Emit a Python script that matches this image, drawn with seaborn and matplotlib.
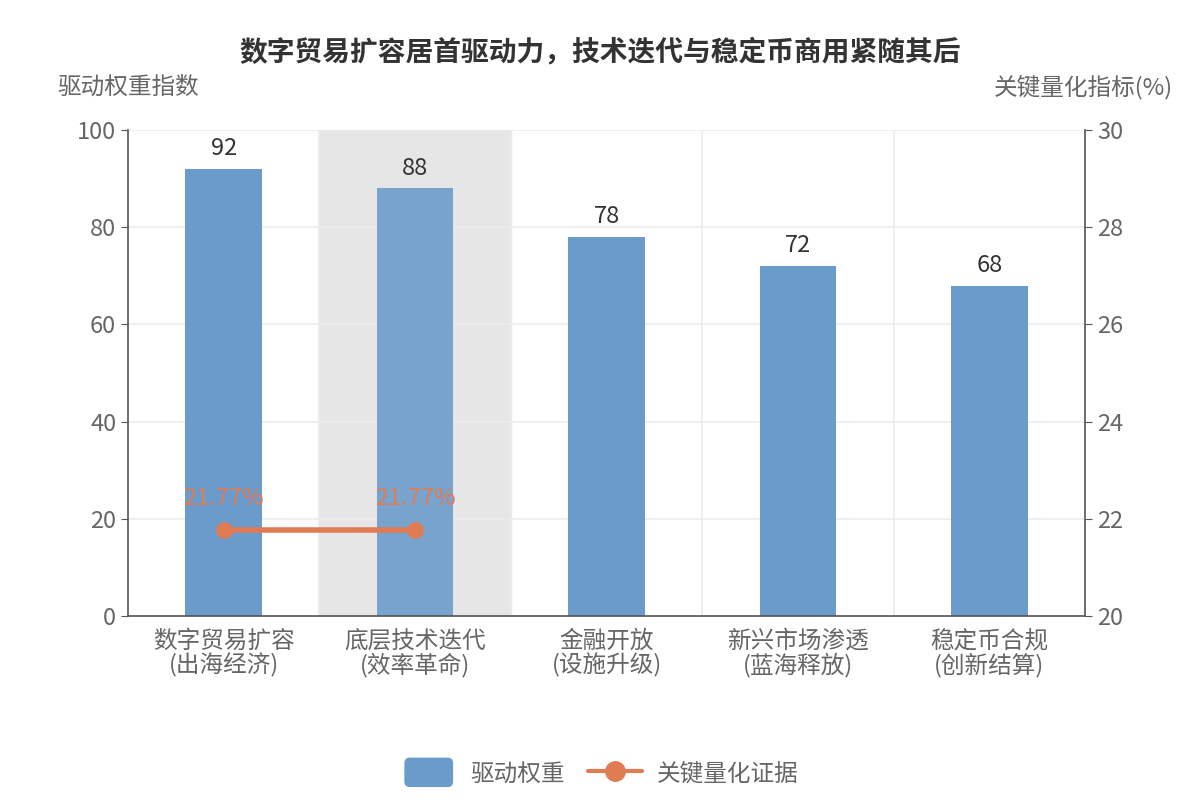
import numpy as np
import pandas as pd
import matplotlib
matplotlib.use('Agg')
import matplotlib.pyplot as plt
import seaborn as sns
from matplotlib.patches import FancyBboxPatch
from matplotlib.lines import Line2D
from matplotlib.legend_handler import HandlerPatch

categories = ['数字贸易扩容\n(出海经济)', '底层技术迭代\n(效率革命)', '金融开放\n(设施升级)',
              '新兴市场渗透\n(蓝海释放)', '稳定币合规\n(创新结算)']
weights = [92, 88, 78, 72, 68]
evidence = [21.77, 21.77, np.nan, np.nan, np.nan]

sns.set_style('white')
plt.rcParams['font.family'] = ['Noto Sans CJK SC', 'DejaVu Sans']

bar_color = '#6b9bcb'
line_color = '#e07b54'
text_gray = '#666666'

df = pd.DataFrame({'cat': categories, 'weight': weights, 'evidence': evidence})

fig = plt.figure(figsize=(12, 8), dpi=100)
ax = fig.add_axes([0.1067, 0.23, 0.7975, 0.6075])

# hover highlight on the second category
ax.axvspan(0.5, 1.5, color='#e6e6e6', zorder=0)

sns.barplot(data=df, x='cat', y='weight', color=bar_color, width=0.4,
            saturation=1, linewidth=0, ax=ax, zorder=2)
ax.patches[-4].set_facecolor('#77a3cd')

ax.set_xlim(-0.5, 4.5)
ax.set_ylim(0, 100)
ax.set_yticks([0, 20, 40, 60, 80, 100])
ax.set_xlabel('')
ax.set_ylabel('')
for y in [20, 40, 60, 80, 100]:
    ax.axhline(y, color='#ececec', lw=1.2, zorder=1)
for x in [0.5, 1.5, 2.5, 3.5]:
    ax.axvline(x, color='#ececec', lw=1.2, zorder=1)

for i, v in enumerate(weights):
    ax.text(i, v + 1.8, str(v), ha='center', va='bottom', fontsize=17, color='#333333')

ax.tick_params(axis='y', labelsize=17, colors=text_gray, length=5, color='#555555')
ax.tick_params(axis='x', labelsize=17, colors=text_gray, length=5, color='#555555', pad=5)
for lbl in ax.get_xticklabels():
    lbl.set_linespacing(1.0)
for s in ['top', 'right']:
    ax.spines[s].set_visible(False)
for s in ['left', 'bottom']:
    ax.spines[s].set_color('#555555')
    ax.spines[s].set_linewidth(1.2)

ax2 = ax.twinx()
sns.lineplot(x=np.arange(len(categories)), y=evidence, color=line_color, lw=4,
             marker='o', markersize=12, markeredgewidth=0, ax=ax2, zorder=3)
ax2.set_ylim(20, 30)
ax2.set_yticks([20, 22, 24, 26, 28, 30])
ax2.tick_params(axis='y', labelsize=17, colors=text_gray, length=5, color='#555555')
for s in ['top', 'left', 'bottom']:
    ax2.spines[s].set_visible(False)
ax2.spines['right'].set_color('#555555')
ax2.spines['right'].set_linewidth(1.2)
for i, v in enumerate(evidence):
    if not np.isnan(v):
        ax2.text(i, v + 0.42, f'{v:.2f}%', ha='center', va='bottom', fontsize=17, color=line_color)

fig.text(0.5, 0.935, '数字贸易扩容居首驱动力，技术迭代与稳定币商用紧随其后',
         ha='center', va='center', fontsize=20, fontweight='bold', color='#333333')
fig.text(0.107, 0.891, '驱动权重指数', ha='center', va='center', fontsize=17, color=text_gray)
fig.text(0.903, 0.891, '关键量化指标(%)', ha='center', va='center', fontsize=17, color=text_gray)


class RoundBox(HandlerPatch):
    def create_artists(self, legend, orig_handle, xdescent, ydescent, width, height, fontsize, trans):
        p = FancyBboxPatch((-xdescent + 2, -ydescent - 3), width - 4, height + 6,
                           boxstyle='round,pad=0,rounding_size=4',
                           facecolor=bar_color, edgecolor='none', transform=trans)
        return [p]


handles = [FancyBboxPatch((0, 0), 1, 1, facecolor=bar_color),
           Line2D([0], [0], color=line_color, lw=3, marker='o', markersize=14)]
fig.legend(handles, ['驱动权重', '关键量化证据'], loc='center', bbox_to_anchor=(0.5, 0.033),
           ncol=2, frameon=False, fontsize=17, labelcolor=text_gray,
           handlelength=2.3, handleheight=1.0, handletextpad=0.6, columnspacing=1.0,
           handler_map={FancyBboxPatch: RoundBox()})

fig.savefig('out.png', dpi=100)
